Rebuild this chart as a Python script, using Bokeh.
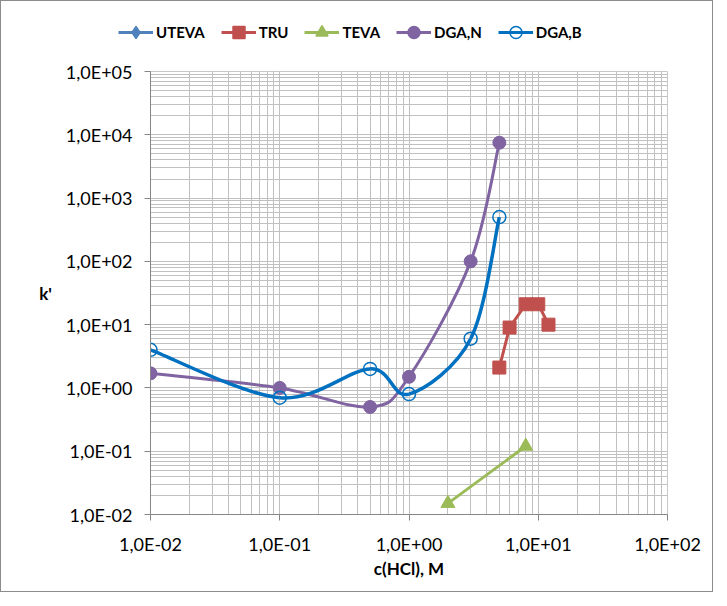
import numpy as np
from bokeh.plotting import figure
from bokeh.layouts import column
from bokeh.models import (Range1d, FixedTicker, CustomJSTickFormatter, Legend,
                          LegendItem, ColumnDataSource)
from bokeh.embed import file_html
from bokeh.resources import INLINE

# ---- data ----
series_names = ["UTEVA", "TRU", "TEVA", "DGA,N", "DGA,B"]
uteva_x = []
uteva_y = []
tru_x = [5, 6, 8, 10, 12]
tru_y = [2.1, 9.0, 21.0, 21.0, 10.0]
teva_x = [2, 8]
teva_y = [0.015, 0.12]
dgan_x = [0.01, 0.1, 0.5, 1.0, 3.0, 5.0]
dgan_y = [1.7, 1.0, 0.5, 1.5, 100.0, 7500.0]
dgab_x = [0.01, 0.1, 0.5, 1.0, 3.0, 5.0]
dgab_y = [4.0, 0.7, 2.0, 0.8, 6.0, 500.0]

x_major = [0.01, 0.1, 1.0, 10.0, 100.0]
y_major = [0.01, 0.1, 1.0, 10.0, 100.0, 1000.0, 10000.0, 100000.0]

C_UTEVA = "#4F81BD"
C_TRU = "#C0504D"
C_TEVA = "#9BBB59"
C_DGAN = "#8064A2"
C_DGAB = "#0070C0"
COLORS = [C_UTEVA, C_TRU, C_TEVA, C_DGAN, C_DGAB]
FONT = "Lato"


def minors(majors):
    out = []
    for m in majors[:-1]:
        out += [m * k for k in range(2, 10)]
    return out


def smooth(xs, ys, t=1.0 / 6.0):
    P = np.column_stack([np.log10(xs), np.log10(ys)])
    n = len(P)
    d = {k: [] for k in ["x0", "y0", "x1", "y1", "cx0", "cy0", "cx1", "cy1"]}
    for i in range(n - 1):
        pm = P[max(i - 1, 0)]
        p1 = P[i]
        p2 = P[i + 1]
        pp = P[min(i + 2, n - 1)]
        c1 = p1 + (p2 - pm) * t
        c2 = p2 - (pp - p1) * t
        for key, v in [("x0", p1[0]), ("y0", p1[1]), ("x1", p2[0]), ("y1", p2[1]),
                       ("cx0", c1[0]), ("cy0", c1[1]), ("cx1", c2[0]), ("cy1", c2[1])]:
            d[key].append(10 ** v)
    return ColumnDataSource(d)


# ---------------- main plot ----------------
p = figure(width=711, height=540, x_axis_type="log", y_axis_type="log",
           x_range=Range1d(0.01, 100), y_range=Range1d(0.01, 100000),
           output_backend="svg", toolbar_location=None,
           min_border_left=149, min_border_right=45, min_border_top=20,
           min_border_bottom=77)
p.frame_align = False
p.background_fill_color = "white"
p.border_fill_color = "white"
p.outline_line_color = "#C8C8C8"

p.xaxis.ticker = FixedTicker(ticks=x_major, minor_ticks=minors(x_major))
p.yaxis.ticker = FixedTicker(ticks=y_major, minor_ticks=minors(y_major))
fmt = """
const e = Math.round(Math.log10(tick));
const s = e < 0 ? '-' : '+';
const a = Math.abs(e);
return '1,0E' + s + (a < 10 ? '0' : '') + a;
"""
for ax in (p.xaxis, p.yaxis):
    ax.formatter = CustomJSTickFormatter(code=fmt)
    ax.axis_line_color = "#868686"
    ax.major_tick_line_color = "#868686"
    ax.major_tick_out = 6
    ax.major_tick_in = 0
    ax.minor_tick_out = 0
    ax.minor_tick_in = 0
    ax.major_label_text_font = FONT
    ax.major_label_text_font_size = "18px"
    ax.major_label_text_color = "#000000"
    ax.major_label_standoff = 12
    ax.axis_label_text_font = FONT
    ax.axis_label_text_font_size = "17px"
    ax.axis_label_text_font_style = "bold"
    ax.axis_label_text_color = "#000000"

p.xaxis.axis_label = "c(HCl), M"
p.xaxis.axis_label_standoff = 0
p.yaxis.axis_label = "k'"
p.yaxis.axis_label_orientation = "horizontal"
p.yaxis.axis_label_standoff = 11

for g in (p.xgrid, p.ygrid):
    g.grid_line_color = "#C0C0C0"
    g.minor_grid_line_color = "#C0C0C0"
    g.grid_line_width = 1
    g.minor_grid_line_width = 1

# UTEVA (no points inside the plotted range)
p.line(uteva_x, uteva_y, line_color=C_UTEVA, line_width=3)
p.scatter(uteva_x, uteva_y, marker="diamond", size=15, color=C_UTEVA)

# TRU
p.line(tru_x, tru_y, line_color=C_TRU, line_width=3)
p.scatter(tru_x, tru_y, marker="square", size=13, color=C_TRU)

# TEVA
p.line(teva_x, teva_y, line_color=C_TEVA, line_width=3)
p.scatter(teva_x, teva_y, marker="triangle", size=14, color=C_TEVA)

# DGA,N (smoothed)
p.bezier("x0", "y0", "x1", "y1", "cx0", "cy0", "cx1", "cy1",
         source=smooth(dgan_x, dgan_y), line_color=C_DGAN, line_width=3)
p.scatter(dgan_x, dgan_y, marker="circle", size=13, color=C_DGAN)

# DGA,B (smoothed)
p.bezier("x0", "y0", "x1", "y1", "cx0", "cy0", "cx1", "cy1",
         source=smooth(dgab_x, dgab_y), line_color=C_DGAB, line_width=3.5)
p.scatter(dgab_x, dgab_y, marker="circle", size=13, fill_color=None,
          line_color=C_DGAB, line_width=1.5)

# ---------------- legend strip ----------------
lg = figure(width=711, height=50, x_range=Range1d(0, 1), y_range=Range1d(0, 1),
            output_backend="svg", toolbar_location=None,
            x_axis_location=None, y_axis_location=None,
            min_border=0, min_border_left=0, min_border_right=0,
            min_border_top=0, min_border_bottom=0)
lg.frame_align = False
lg.grid.visible = False
lg.outline_line_color = None
lg.background_fill_color = "white"
lg.border_fill_color = "white"

markers = ["diamond", "square", "triangle", "circle", "circle"]
fills = [C_UTEVA, C_TRU, C_TEVA, C_DGAN, None]
items = []
for name, col, mk, fc in zip(series_names, COLORS, markers, fills):
    # placeholders far outside the strip's range: only their legend glyphs show
    r1 = lg.line([5, 6], [5, 5], line_color=col, line_width=3)
    r2 = lg.scatter([5], [5], marker=mk, size=12, fill_color=fc, line_color=col,
                    line_width=1.5)
    items.append(LegendItem(label=name, renderers=[r1, r2]))

legend = Legend(items=items, orientation="horizontal", location=(117, 4))
legend.glyph_width = 35
legend.glyph_height = 30
legend.label_standoff = 3
legend.spacing = 16
legend.padding = 0
legend.margin = 0
legend.border_line_color = None
legend.background_fill_alpha = 0
legend.label_text_font = FONT
legend.label_text_font_size = "15px"
legend.label_text_font_style = "bold"
legend.label_text_color = "#000000"
lg.add_layout(legend, "center")

layout = column(lg, p, spacing=0)
layout.styles = {"border": "1px solid #8c8c8c"}

open("out.html", "w").write(file_html(layout, INLINE))
